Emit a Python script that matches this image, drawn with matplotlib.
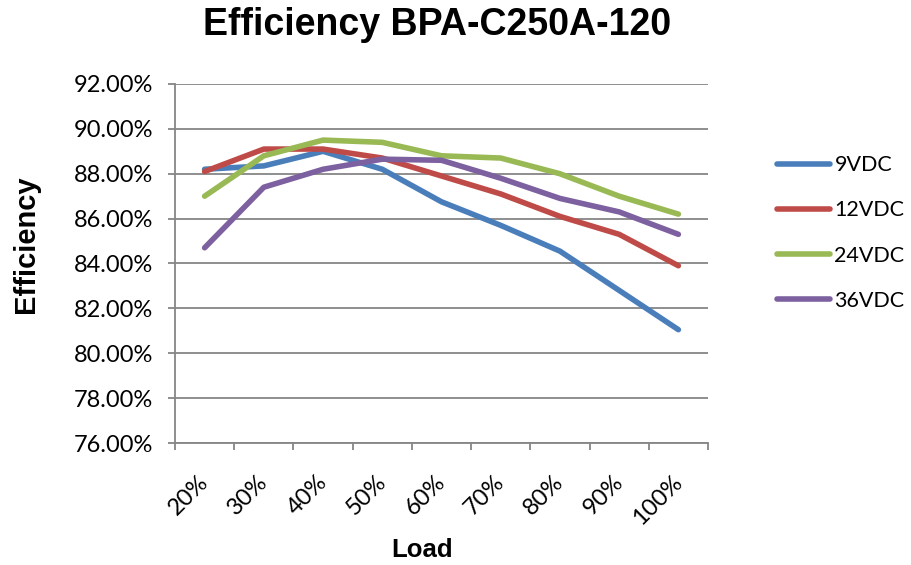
import matplotlib
matplotlib.use("Agg")
import matplotlib.pyplot as plt
import matplotlib.transforms as mtransforms
import numpy as np

loads = ["20%", "30%", "40%", "50%", "60%", "70%", "80%", "90%", "100%"]
v9 = [88.2, 88.35, 89.0, 88.2, 86.75, 85.7, 84.55, 82.8, 81.05]
v12 = [88.1, 89.1, 89.1, 88.7, 87.9, 87.1, 86.1, 85.3, 83.9]
v24 = [87.0, 88.8, 89.5, 89.4, 88.8, 88.7, 88.0, 87.0, 86.2]
v36 = [84.7, 87.4, 88.2, 88.65, 88.6, 87.8, 86.9, 86.3, 85.3]
series_names = ["9VDC", "12VDC", "24VDC", "36VDC"]
yticks = [76, 78, 80, 82, 84, 86, 88, 90, 92]

colors = ["#4A7EBB", "#BE4B48", "#98B954", "#7D60A0"]
gray = "#868686"
tickfont = "Lato"

W, H = 912, 565
fig = plt.figure(figsize=(W / 100, H / 100), dpi=100)
ax = fig.add_axes([175 / W, 1 - 443 / H, (708 - 175) / W, (443 - 84) / H])

x = np.arange(len(loads))
for vals, name, c in zip([v9, v12, v24, v36], series_names, colors):
    ax.plot(x, vals, color=c, lw=4.0, label=name, solid_capstyle="round", solid_joinstyle="round")

ax.set_xlim(-0.5, len(loads) - 0.5)
ax.set_ylim(76, 92)
ax.set_yticks(yticks)
ax.set_yticklabels([f"{v:.2f}%" for v in yticks], fontsize=17, family=tickfont)
ax.yaxis.grid(True, color=gray, lw=1.3)
ax.set_axisbelow(True)

ax.set_xticks(x)
ax.set_xticks(np.arange(-0.5, len(loads), 1.0), minor=True)
ax.tick_params(axis="x", which="major", length=0, pad=0)
ax.tick_params(axis="x", which="minor", length=5, width=1.3, color=gray, direction="out")
ax.tick_params(axis="y", length=5, width=1.3, color=gray, direction="out", pad=11)
ax.set_xticklabels(loads, fontsize=17, family=tickfont, rotation=45,
                   ha="right", va="top", rotation_mode="anchor")
offset = mtransforms.ScaledTranslation(-7 / 100, -28 / 100, fig.dpi_scale_trans)
for lab in ax.get_xticklabels():
    lab.set_transform(lab.get_transform() + offset)

for s in ["top", "right"]:
    ax.spines[s].set_visible(False)
for s in ["left", "bottom"]:
    ax.spines[s].set_color(gray)
    ax.spines[s].set_linewidth(1.3)

fig.text(437 / W, 1 - 25 / H, "Efficiency BPA-C250A-120", ha="center", va="center",
         fontsize=27, fontweight="bold", family="Liberation Sans")
fig.text(26 / W, 1 - 244 / H, "Efficiency", ha="center", va="center", rotation=90,
         fontsize=21, fontweight="bold", family="Liberation Sans")
fig.text(422 / W, 1 - 550 / H, "Load", ha="center", va="center",
         fontsize=18.5, fontweight="bold", family="Liberation Sans")

leg = fig.legend(loc="center left", bbox_to_anchor=(758 / W, 1 - 233 / H), frameon=False,
                 prop={"family": tickfont, "size": 15.5}, handlelength=2.45, handletextpad=0.2,
                 labelspacing=1.17)
for line in leg.get_lines():
    line.set_linewidth(4.0)

fig.savefig("out.png", dpi=100)
